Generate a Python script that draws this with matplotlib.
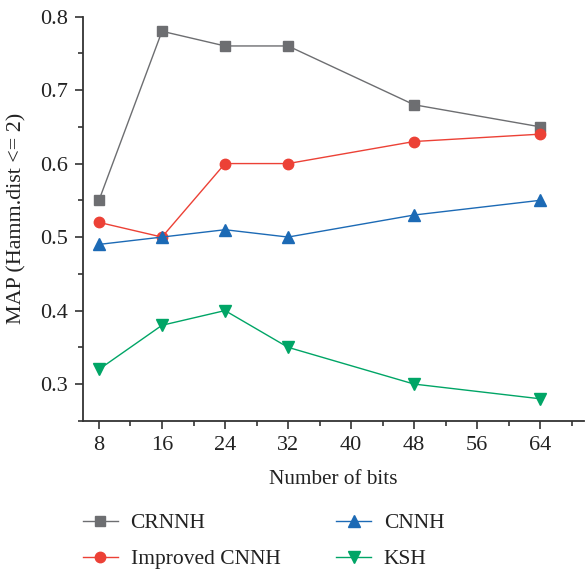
import matplotlib.pyplot as plt
from matplotlib.ticker import MultipleLocator

plt.rcParams['font.family'] = ['Liberation Serif', 'DejaVu Serif']

bits = [8, 16, 24, 32, 48, 64]
crnnh = [0.55, 0.78, 0.76, 0.76, 0.68, 0.65]
improved_cnnh = [0.52, 0.50, 0.60, 0.60, 0.63, 0.64]
cnnh = [0.49, 0.50, 0.51, 0.50, 0.53, 0.55]
ksh = [0.32, 0.38, 0.40, 0.35, 0.30, 0.28]

fig = plt.figure(figsize=(5.86, 5.71), dpi=100)
ax = fig.add_axes([0.142, 0.263, 0.855, 0.708])

ax.plot(bits, crnnh, color="#6d6e71", marker="s", markersize=6.5, lw=1.0, label="CRNNH")
ax.plot(bits, improved_cnnh, color="#ec4136", marker="o", markersize=7.5, lw=1.0, label="Improved CNNH")
ax.plot(bits, cnnh, color="#1c6ab5", marker="^", markersize=8.5, lw=1.0, label="CNNH")
ax.plot(bits, ksh, color="#00a566", marker="v", markersize=8.5, lw=1.0, label="KSH")

ax.set_xlim(6, 69.6)
ax.set_ylim(0.25, 0.8)
ax.set_xticks([8, 16, 24, 32, 40, 48, 56, 64])
ax.xaxis.set_minor_locator(MultipleLocator(4))
ax.set_yticks([0.3, 0.4, 0.5, 0.6, 0.7, 0.8])
ax.yaxis.set_minor_locator(MultipleLocator(0.05))

for side in ["top", "right"]:
    ax.spines[side].set_visible(False)
for side in ["left", "bottom"]:
    ax.spines[side].set_color("#333333")
    ax.spines[side].set_linewidth(1.3)

ax.tick_params(which="major", length=6, width=1.2, color="#333333", labelsize=16, labelcolor="#222222", pad=5)
ax.tick_params(which="minor", length=3.5, width=1.2, color="#333333")

ax.set_xlabel("Number of bits", fontsize=15.3, color="#222222", labelpad=11)
ax.set_ylabel("MAP (Hamm.dist <= 2)", fontsize=15.8, color="#222222", labelpad=10)

fig.legend(loc="center", bbox_to_anchor=(0.45, 0.052), ncol=2, frameon=False,
           fontsize=15.5, handlelength=1.6, handletextpad=0.6, columnspacing=2.6,
           labelspacing=0.75, numpoints=1, labelcolor="#222222")

fig.savefig("out.png", dpi=100)
